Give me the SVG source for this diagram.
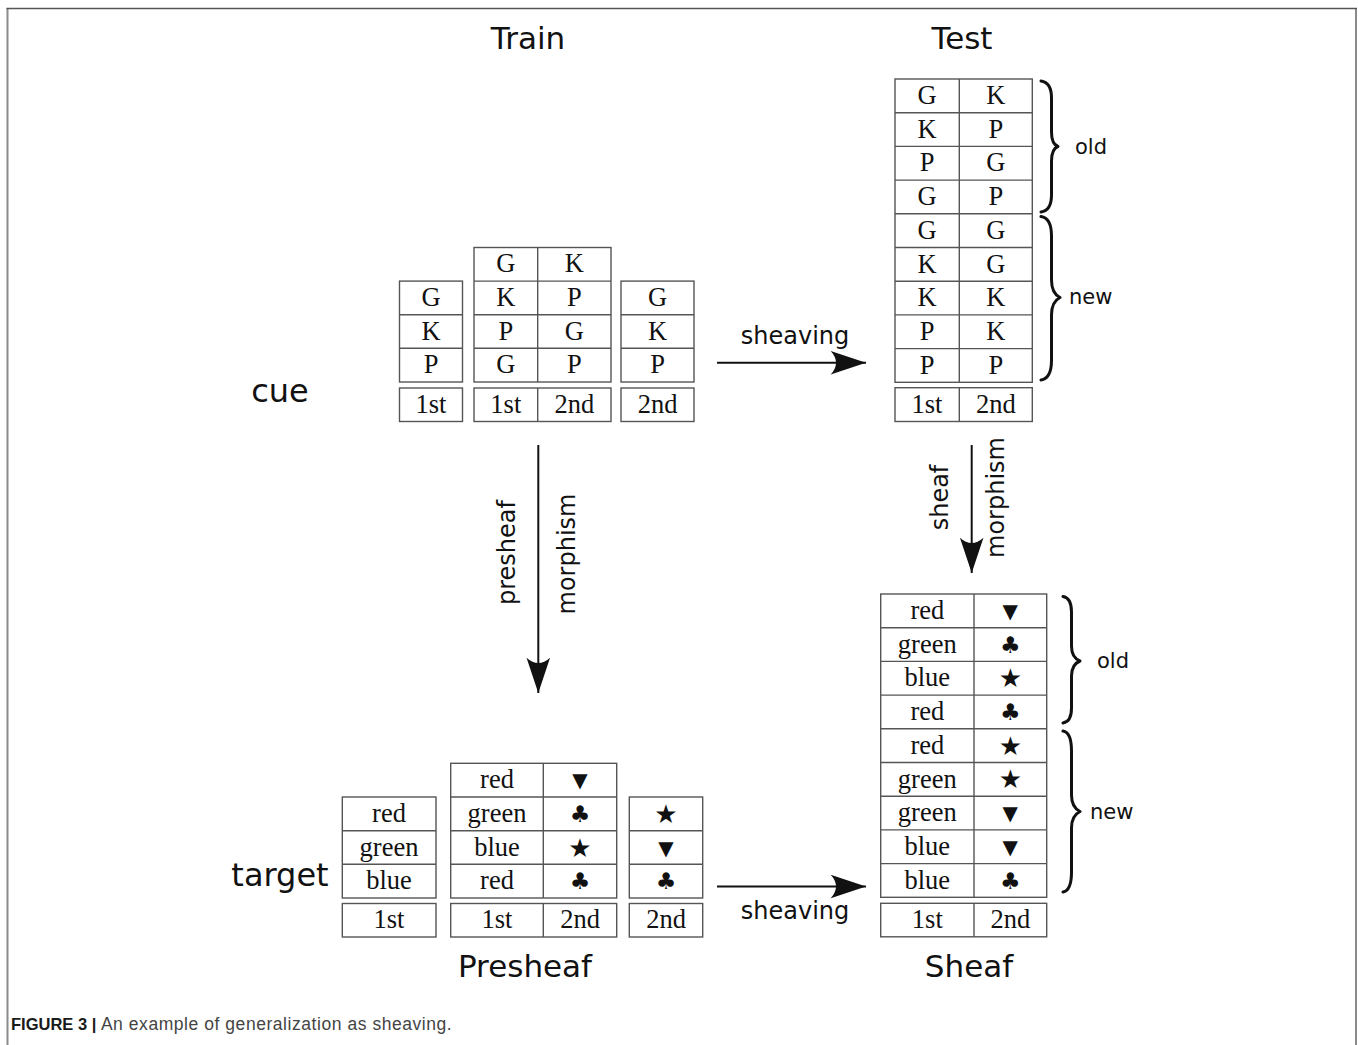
<svg xmlns="http://www.w3.org/2000/svg" xmlns:xlink="http://www.w3.org/1999/xlink" width="1358" height="1045" viewBox="0 0 1358 1045">
<style>
.frame{stroke:#8a8a8a;stroke-width:2;fill:none}
.cell{fill:#fff;stroke:#555;stroke-width:1.4}
.ln{stroke:#555;stroke-width:1.4}
.t{font-family:"Liberation Serif","Times New Roman",serif;font-size:26.5px;fill:#111;text-anchor:middle}
.sym{font-family:"DejaVu Sans",sans-serif;font-size:20px;fill:#111;text-anchor:middle;dominant-baseline:central}
.club{font-size:23px}
.star{font-size:26px}
.title{font-family:"DejaVu Sans",sans-serif;font-size:31px;fill:#111;text-anchor:middle}
.side{font-family:"DejaVu Sans",sans-serif;font-size:32px;fill:#111;text-anchor:middle}
.lab{font-family:"DejaVu Sans",sans-serif;font-size:24px;fill:#111;text-anchor:middle}
.br{font-family:"DejaVu Sans",sans-serif;font-size:21px;fill:#111}
.brace{fill:none;stroke:#111;stroke-width:3;stroke-linecap:round;stroke-linejoin:round}
.arrow{stroke:#111;stroke-width:2;fill:none}
.cap{font-family:"Liberation Sans",Arial,sans-serif;font-size:17.5px;fill:#444;letter-spacing:0.55px}
</style>
<defs>
<marker id="ah" markerUnits="userSpaceOnUse" markerWidth="40" markerHeight="30" viewBox="-32 -12 34 24" refX="0" refY="0" orient="auto">
<path d="M0,0 L-30,-10 Q-21,0 -30,10 Z" fill="#111"/>
</marker>
</defs>
<rect width="1358" height="1045" fill="#fff"/>
<g id="frame">
<line x1="7.5" y1="8" x2="7.5" y2="1045" class="frame"/>
<line x1="1356" y1="8" x2="1356" y2="1045" class="frame"/>
<line x1="6.5" y1="8.5" x2="1357" y2="8.5" stroke="#555" stroke-width="1.6"/>
</g>

<g id="titles">
<text class="title" x="528" y="49">Train</text>
<text class="title" x="962" y="49">Test</text>
<text class="side" x="280" y="401.5">cue</text>
<text class="side" x="280" y="886">target</text>
<text class="title" x="525" y="977">Presheaf</text>
<text class="title" x="969" y="977">Sheaf</text>
</g>

<g id="train-first">
<rect class="cell" x="399.5" y="281.1" width="63" height="100.9"/>
<line class="ln" x1="399.5" y1="314.7" x2="462.5" y2="314.7"/>
<line class="ln" x1="399.5" y1="348.3" x2="462.5" y2="348.3"/>
<text class="t" x="431" y="306">G</text>
<text class="t" x="431" y="339.6">K</text>
<text class="t" x="431" y="373.2">P</text>
<rect class="cell" x="399.5" y="388" width="63" height="33.5"/>
<text class="t" x="431" y="413">1st</text>
</g>
<g id="train-pair">
<rect class="cell" x="474" y="247.5" width="137" height="134.5"/>
<line class="ln" x1="474" y1="281.1" x2="611" y2="281.1"/>
<line class="ln" x1="474" y1="314.7" x2="611" y2="314.7"/>
<line class="ln" x1="474" y1="348.3" x2="611" y2="348.3"/>
<line class="ln" x1="537.7" y1="247.5" x2="537.7" y2="382"/>
<text class="t" x="505.8" y="272.4">G</text><text class="t" x="574.3" y="272.4">K</text>
<text class="t" x="505.8" y="306">K</text><text class="t" x="574.3" y="306">P</text>
<text class="t" x="505.8" y="339.6">P</text><text class="t" x="574.3" y="339.6">G</text>
<text class="t" x="505.8" y="373.2">G</text><text class="t" x="574.3" y="373.2">P</text>
<rect class="cell" x="474" y="388" width="137" height="33.5"/>
<line class="ln" x1="537.7" y1="388" x2="537.7" y2="421.5"/>
<text class="t" x="505.8" y="413">1st</text><text class="t" x="574.3" y="413">2nd</text>
</g>
<g id="train-second">
<rect class="cell" x="621" y="281.1" width="73" height="100.9"/>
<line class="ln" x1="621" y1="314.7" x2="694" y2="314.7"/>
<line class="ln" x1="621" y1="348.3" x2="694" y2="348.3"/>
<text class="t" x="657.5" y="306">G</text>
<text class="t" x="657.5" y="339.6">K</text>
<text class="t" x="657.5" y="373.2">P</text>
<rect class="cell" x="621" y="388" width="73" height="33.5"/>
<text class="t" x="657.5" y="413">2nd</text>
</g>

<g id="test">
<rect class="cell" x="895" y="79" width="137.3" height="303.3"/>
<line class="ln" x1="895" y1="112.7" x2="1032.3" y2="112.7"/>
<line class="ln" x1="895" y1="146.4" x2="1032.3" y2="146.4"/>
<line class="ln" x1="895" y1="180.1" x2="1032.3" y2="180.1"/>
<line class="ln" x1="895" y1="213.8" x2="1032.3" y2="213.8"/>
<line class="ln" x1="895" y1="247.5" x2="1032.3" y2="247.5"/>
<line class="ln" x1="895" y1="281.2" x2="1032.3" y2="281.2"/>
<line class="ln" x1="895" y1="314.9" x2="1032.3" y2="314.9"/>
<line class="ln" x1="895" y1="348.6" x2="1032.3" y2="348.6"/>
<line class="ln" x1="959.3" y1="79" x2="959.3" y2="382.3"/>
<text class="t" x="927" y="104">G</text><text class="t" x="995.8" y="104">K</text>
<text class="t" x="927" y="137.7">K</text><text class="t" x="995.8" y="137.7">P</text>
<text class="t" x="927" y="171.4">P</text><text class="t" x="995.8" y="171.4">G</text>
<text class="t" x="927" y="205.1">G</text><text class="t" x="995.8" y="205.1">P</text>
<text class="t" x="927" y="238.8">G</text><text class="t" x="995.8" y="238.8">G</text>
<text class="t" x="927" y="272.5">K</text><text class="t" x="995.8" y="272.5">G</text>
<text class="t" x="927" y="306.2">K</text><text class="t" x="995.8" y="306.2">K</text>
<text class="t" x="927" y="339.9">P</text><text class="t" x="995.8" y="339.9">K</text>
<text class="t" x="927" y="373.6">P</text><text class="t" x="995.8" y="373.6">P</text>
<rect class="cell" x="895" y="387.7" width="137.3" height="33.8"/>
<line class="ln" x1="959.3" y1="387.7" x2="959.3" y2="421.5"/>
<text class="t" x="927" y="412.9">1st</text><text class="t" x="995.8" y="412.9">2nd</text>
</g>
<g id="test-braces">
<path class="brace" d="M1041,81 C1048,82 1051.5,88 1051.5,98 L1051.5,132 C1051.5,140 1054,145 1058,146.5 C1054,148 1051.5,153 1051.5,161 L1051.5,195 C1051.5,205 1048,211 1041,212"/>
<text class="br" x="1075" y="153.5">old</text>
<path class="brace" d="M1041,216.5 C1048,217.5 1051.5,224 1051.5,236 L1051.5,280 C1051.5,289 1055,295 1060,297.5 C1055,300 1051.5,306 1051.5,315 L1051.5,360 C1051.5,372 1048,379 1041,380"/>
<text class="br" x="1069" y="304">new</text>
</g>

<g id="sheaf">
<rect class="cell" x="880.7" y="594" width="166" height="303.3"/>
<line class="ln" x1="880.7" y1="627.7" x2="1046.7" y2="627.7"/>
<line class="ln" x1="880.7" y1="661.4" x2="1046.7" y2="661.4"/>
<line class="ln" x1="880.7" y1="695.1" x2="1046.7" y2="695.1"/>
<line class="ln" x1="880.7" y1="728.8" x2="1046.7" y2="728.8"/>
<line class="ln" x1="880.7" y1="762.5" x2="1046.7" y2="762.5"/>
<line class="ln" x1="880.7" y1="796.2" x2="1046.7" y2="796.2"/>
<line class="ln" x1="880.7" y1="829.9" x2="1046.7" y2="829.9"/>
<line class="ln" x1="880.7" y1="863.6" x2="1046.7" y2="863.6"/>
<line class="ln" x1="974" y1="594" x2="974" y2="897.3"/>
<text class="t" x="927.3" y="619">red</text><text class="sym" x="1010.3" y="610.9">▼</text>
<text class="t" x="927.3" y="652.7">green</text><text class="sym club" x="1010.3" y="644.6">♣</text>
<text class="t" x="927.3" y="686.4">blue</text><text class="sym star" x="1010.3" y="678.3">★</text>
<text class="t" x="927.3" y="720.1">red</text><text class="sym club" x="1010.3" y="712">♣</text>
<text class="t" x="927.3" y="753.8">red</text><text class="sym star" x="1010.3" y="745.7">★</text>
<text class="t" x="927.3" y="787.5">green</text><text class="sym star" x="1010.3" y="779.4">★</text>
<text class="t" x="927.3" y="821.2">green</text><text class="sym" x="1010.3" y="813.1">▼</text>
<text class="t" x="927.3" y="854.9">blue</text><text class="sym" x="1010.3" y="846.8">▼</text>
<text class="t" x="927.3" y="888.6">blue</text><text class="sym club" x="1010.3" y="880.5">♣</text>
<rect class="cell" x="880.7" y="903.3" width="166" height="33.5"/>
<line class="ln" x1="974" y1="903.3" x2="974" y2="936.8"/>
<text class="t" x="927.3" y="928.2">1st</text><text class="t" x="1010.3" y="928.2">2nd</text>
</g>
<g id="sheaf-braces">
<path class="brace" d="M1063,596.5 C1069,597.5 1071.5,603 1071.5,612 L1071.5,646 C1071.5,654 1075,659 1080,661 C1075,663 1071.5,668 1071.5,676 L1071.5,708 C1071.5,717 1069,722 1063,723"/>
<text class="br" x="1097" y="668">old</text>
<path class="brace" d="M1063,731 C1069,732 1071.5,739 1071.5,751 L1071.5,795 C1071.5,804 1075,809 1080,811.5 C1075,814 1071.5,819 1071.5,828 L1071.5,872 C1071.5,884 1069,891 1063,892"/>
<text class="br" x="1090" y="818.5">new</text>
</g>

<g id="presheaf-first">
<rect class="cell" x="342.3" y="797" width="93.7" height="101"/>
<line class="ln" x1="342.3" y1="830.7" x2="436" y2="830.7"/>
<line class="ln" x1="342.3" y1="864.3" x2="436" y2="864.3"/>
<text class="t" x="389" y="822">red</text>
<text class="t" x="389" y="855.6">green</text>
<text class="t" x="389" y="889.3">blue</text>
<rect class="cell" x="342.3" y="903.5" width="93.7" height="33.5"/>
<text class="t" x="389" y="928.4">1st</text>
</g>
<g id="presheaf-pair">
<rect class="cell" x="450.7" y="763.3" width="166" height="134.7"/>
<line class="ln" x1="450.7" y1="797" x2="616.7" y2="797"/>
<line class="ln" x1="450.7" y1="830.7" x2="616.7" y2="830.7"/>
<line class="ln" x1="450.7" y1="864.3" x2="616.7" y2="864.3"/>
<line class="ln" x1="543.3" y1="763.3" x2="543.3" y2="898"/>
<text class="t" x="497" y="788.3">red</text><text class="sym" x="580" y="780.2">▼</text>
<text class="t" x="497" y="822">green</text><text class="sym club" x="580" y="813.9">♣</text>
<text class="t" x="497" y="855.6">blue</text><text class="sym star" x="580" y="847.5">★</text>
<text class="t" x="497" y="889.3">red</text><text class="sym club" x="580" y="881.2">♣</text>
<rect class="cell" x="450.7" y="903.5" width="166" height="33.5"/>
<line class="ln" x1="543.3" y1="903.5" x2="543.3" y2="937"/>
<text class="t" x="497" y="928.4">1st</text><text class="t" x="580" y="928.4">2nd</text>
</g>
<g id="presheaf-second">
<rect class="cell" x="629.3" y="797" width="73.4" height="101"/>
<line class="ln" x1="629.3" y1="830.7" x2="702.7" y2="830.7"/>
<line class="ln" x1="629.3" y1="864.3" x2="702.7" y2="864.3"/>
<text class="sym star" x="666" y="813.9">★</text>
<text class="sym" x="666" y="847.5">▼</text>
<text class="sym club" x="666" y="881.2">♣</text>
<rect class="cell" x="629.3" y="903.5" width="73.4" height="33.5"/>
<text class="t" x="666" y="928.4">2nd</text>
</g>

<g id="connectors">
<line class="arrow" x1="717" y1="362.7" x2="866" y2="362.7" marker-end="url(#ah)"/>
<text class="lab" x="795" y="343.5">sheaving</text>
<line class="arrow" x1="717" y1="886.5" x2="866" y2="886.5" marker-end="url(#ah)"/>
<text class="lab" x="795" y="919">sheaving</text>
<line class="arrow" x1="538.3" y1="445" x2="538.3" y2="693" marker-end="url(#ah)"/>
<text class="lab" transform="translate(515,552.5) rotate(-90)">presheaf</text>
<text class="lab" transform="translate(575,554) rotate(-90)">morphism</text>
<line class="arrow" x1="971.7" y1="445" x2="971.7" y2="573" marker-end="url(#ah)"/>
<text class="lab" transform="translate(947.5,497.5) rotate(-90)">sheaf</text>
<text class="lab" transform="translate(1004,497.5) rotate(-90)">morphism</text>
</g>

<text class="cap" x="11" y="1030"><tspan font-weight="bold" fill="#1a1a1a" font-size="16.5px" letter-spacing="0">FIGURE 3 | </tspan>An example of generalization as sheaving.</text>
</svg>
